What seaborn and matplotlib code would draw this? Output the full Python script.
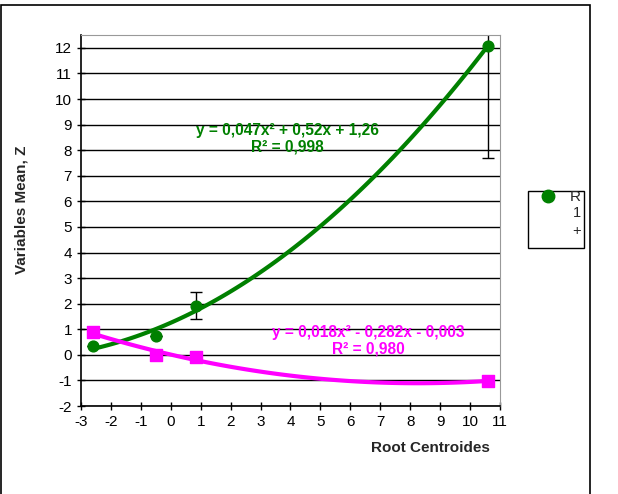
import numpy as np
import matplotlib.pyplot as plt
import matplotlib.patches as mpatches
import seaborn as sns

# data
centroids = [-2.6, -0.5, 0.85, 10.6]
green_z = [0.33, 0.72, 1.93, 12.08]
green_err = [0.0, 0.0, 0.52, 4.38]
pink_z = [0.88, 0.0, -0.1, -1.02]
pink_err = [0.17, 0.0, 0.0, 0.0]

green_eq = "y = 0,047x² + 0,52x + 1,26\nR² = 0,998"
pink_eq = "y = 0,018x² - 0,282x - 0,003\nR² = 0,980"

GREEN = "#008000"
PINK = "#FF00FF"

sns.set_style("white")
plt.rcParams['font.family'] = ['Liberation Sans', 'DejaVu Sans']
plt.rcParams['axes.unicode_minus'] = False

fig = plt.figure(figsize=(6.18, 4.94), dpi=100)
ax = fig.add_axes([0.131, 0.178, 0.678, 0.751])

# error bars behind the markers
ax.errorbar(centroids, green_z, yerr=green_err, fmt='none', ecolor='black',
            elinewidth=1, capsize=4, zorder=2)
ax.errorbar(centroids, pink_z, yerr=pink_err, fmt='none', ecolor='black',
            elinewidth=1, capsize=4, zorder=2)

sns.regplot(x=centroids, y=green_z, order=2, ci=None, ax=ax, color=GREEN,
            marker='o', scatter_kws={'s': 60, 'zorder': 4, 'alpha': 1},
            line_kws={'lw': 3, 'zorder': 3})
sns.regplot(x=centroids, y=pink_z, order=2, ci=None, ax=ax, color=PINK,
            marker='s', scatter_kws={'s': 70, 'zorder': 4, 'alpha': 1},
            line_kws={'lw': 3, 'zorder': 3})

ax.set_xlim(-3, 11)
ax.set_ylim(-2, 12.5)
ax.set_xticks(range(-3, 12))
ax.set_yticks(range(-2, 13))
ax.yaxis.grid(True, color='black', lw=1)
ax.set_axisbelow(True)
ax.tick_params(direction='inout', length=6, width=1, labelsize=11,
               left=True, bottom=True, colors='black')
for side in ['top', 'right']:
    ax.spines[side].set_color('#999999')
for side in ['left', 'bottom']:
    ax.spines[side].set_color('black')
    ax.spines[side].set_linewidth(1.2)

ax.set_xlabel('Root Centroides', fontsize=11, fontweight='bold', va='center')
ax.xaxis.set_label_coords(0.833, -0.113)
ax.set_ylabel('Variables Mean, Z', fontsize=11, fontweight='bold', va='center')
ax.yaxis.set_label_coords(-0.141, 0.53)

ax.text(3.9, 8.45, green_eq, color=GREEN, ha='center', va='center',
        fontsize=11.2, fontweight='bold', linespacing=1.1)
ax.text(6.6, 0.55, pink_eq, color=PINK, ha='center', va='center',
        fontsize=11.2, fontweight='bold', linespacing=1.1)

# outer chart frame
fig.patches.append(mpatches.Rectangle((1 / 618, -0.05), 589 / 618, 0.05 + 1 - 5 / 494,
                                      transform=fig.transFigure, fill=False,
                                      edgecolor='black', lw=1.2))
# truncated legend box
fig.patches.append(mpatches.Rectangle((528 / 618, 1 - 248 / 494), 56 / 618, 57 / 494,
                                      transform=fig.transFigure, fill=False,
                                      edgecolor='black', lw=1))
fig.lines.append(plt.Line2D([548 / 618], [1 - 196 / 494], marker='o', markersize=9,
                            color=GREEN, transform=fig.transFigure))
fig.text(575 / 618, 1 - 197 / 494, 'R', fontsize=11, ha='center', va='center')
fig.text(577 / 618, 1 - 213 / 494, '1', fontsize=10.5, ha='center', va='center')
fig.text(577 / 618, 1 - 231 / 494, '+', fontsize=10.5, ha='center', va='center')

fig.savefig('out.png', dpi=100)
